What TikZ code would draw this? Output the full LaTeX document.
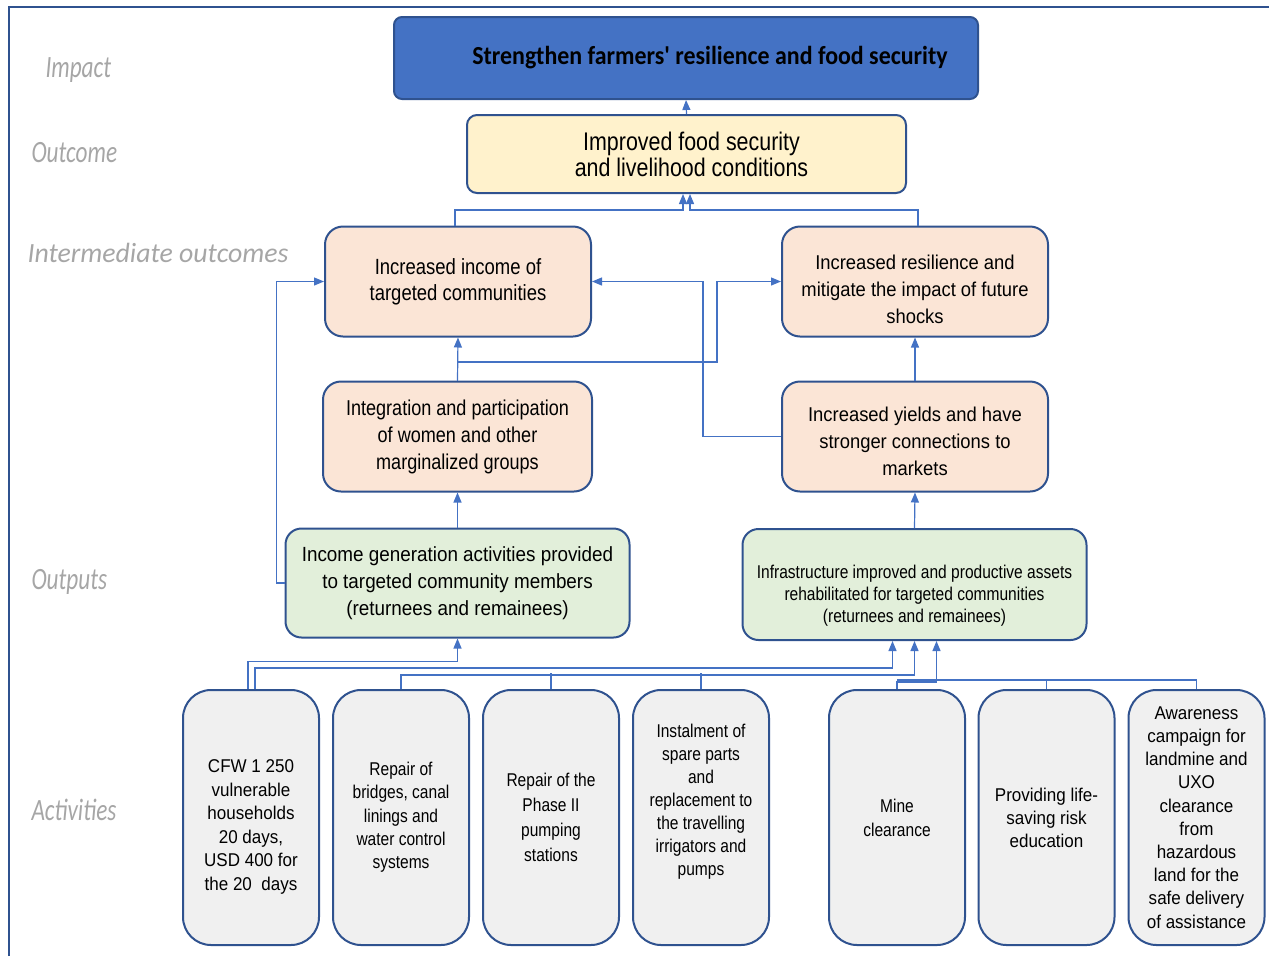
\documentclass[tikz,border=0pt]{standalone}
\usepackage{fontspec}
\setmainfont{Liberation Sans}
\newfontfamily\narrowsans{Liberation Sans}[FakeStretch=0.84]
\newfontfamily\midsans{Liberation Sans}[FakeStretch=0.92]
\newfontfamily\headfont{Carlito}[FakeStretch=0.92]
\newfontfamily\tierfont{Carlito}
\newfontfamily\tiernarrow{Carlito}[FakeStretch=0.75]
\usetikzlibrary{arrows.meta}
\definecolor{edgeblue}{HTML}{2F528F}
\definecolor{linkblue}{HTML}{4472C4}
\definecolor{impactfill}{HTML}{4472C4}
\definecolor{outcomefill}{HTML}{FFF2CC}
\definecolor{interfill}{HTML}{FBE5D6}
\definecolor{outputfill}{HTML}{E2EFDA}
\definecolor{activfill}{HTML}{F0F0F0}
\definecolor{tiergray}{HTML}{A6A6A6}

\begin{document}
\begin{tikzpicture}[x=1pt,y=1pt,
    cbox/.style={draw=edgeblue,line width=2pt,align=center,inner sep=0pt},
    impactbox/.style={cbox,fill=impactfill,rounded corners=8pt,minimum width=584pt,minimum height=82pt,font=\headfont\bfseries\fontsize{26}{30}\selectfont},
    outcomebox/.style={cbox,fill=outcomefill,rounded corners=10pt,minimum width=439pt,minimum height=78pt,font=\narrowsans\fontsize{25.5}{26}\selectfont},
    interbox/.style={cbox,fill=interfill,rounded corners=18pt,minimum width=266pt,minimum height=110pt},
    outputbox/.style={cbox,fill=outputfill,rounded corners=16pt,minimum width=344pt,minimum height=109pt},
    activbox/.style={cbox,fill=activfill,rounded corners=28pt,minimum width=136pt,minimum height=255pt},
    tier/.style={anchor=west,text=tiergray,font=\tiernarrow\itshape\fontsize{31}{31}\selectfont},
    wire/.style={draw=linkblue,line width=1.2pt},
    arr/.style={wire,-{Triangle[length=10pt,width=8pt]}}]
    \useasboundingbox (0,0) rectangle (1269,-956);
    \draw[edgeblue,line width=2pt] (9,-956) -- (9,-7) -- (1269,-7);

    % level names
    \node[tier] (t-impact) at (42,-70) {Impact};
    \node[tier] (t-outcome) at (28,-153) {Outcome};
    \node[tier,font=\tierfont\itshape\fontsize{27.8}{28}\selectfont] (t-inter) at (24,-253) {Intermediate outcomes};
    \node[tier] (t-output) at (28,-582) {Outputs};
    \node[tier] (t-activ) at (28,-810) {Activities};

    % impact and outcome
    \node[impactbox] (impact) at (686,-58) {\hspace*{48pt}Strengthen farmers' resilience and food security};
    \node[outcomebox] (outc) at (686.5,-154) {\hspace*{10pt}Improved food security\\\hspace*{10pt}and livelihood conditions};

    % intermediate outcomes
    \node[interbox,font=\narrowsans\fontsize{22}{26}\selectfont] (io1) at (458,-281.5) {Increased income of\\targeted communities};
    \node[interbox,font=\midsans\fontsize{20}{27}\selectfont] (io2) at (915,-281.5) {\mbox{}\\[3pt]Increased resilience and\\mitigate the impact of future\\shocks};
    \node[interbox,minimum width=269pt,font=\narrowsans\fontsize{21.5}{27}\selectfont] (io3) at (457.5,-436.5) {Integration and participation\\of women and other\\marginalized groups};
    \node[interbox,font=\midsans\fontsize{20}{27}\selectfont] (io4) at (915,-436.5) {\mbox{}\\[-3pt]Increased yields and have\\stronger connections to\\markets};

    % outputs
    \node[outputbox,font=\midsans\fontsize{20.5}{27}\selectfont] (out1) at (457.5,-583) {Income generation activities provided\\to targeted community members\\(returnees and remainees)};
    \node[outputbox,minimum height=111pt,font=\narrowsans\fontsize{18.5}{22}\selectfont] (out2) at (914.5,-584.5) {\mbox{}\\[14pt]Infrastructure improved and productive assets\\rehabilitated for targeted communities\\(returnees and remainees)};

    % activities
    \node[activbox,font=\midsans\fontsize{18.5}{23.5}\selectfont] (a1) at (251,-817.5) {\mbox{}\\[8.5pt]CFW 1 250\\vulnerable\\households\\20 days,\\USD 400 for\\the 20\ \ days};
    \node[activbox,font=\narrowsans\fontsize{18.5}{23.3}\selectfont] (a2) at (401,-817.5) {Repair of\\bridges, canal\\linings and\\water control\\systems};
    \node[activbox,font=\narrowsans\fontsize{18.5}{25}\selectfont] (a3) at (551,-817.5) {Repair of the\\Phase II\\pumping\\stations};
    \node[activbox,font=\narrowsans\fontsize{18.5}{23}\selectfont] (a4) at (701,-817.5) {Instalment of\\spare parts\\and\\replacement to\\the travelling\\irrigators and\\pumps\\[13pt]\mbox{}};
    \node[activbox,font=\narrowsans\fontsize{18.5}{24}\selectfont] (a5) at (897,-817.5) {Mine\\clearance};
    \node[activbox,font=\midsans\fontsize{18.5}{23}\selectfont] (a6) at (1046.5,-817.5) {Providing life-\\saving risk\\education};
    \node[activbox,font=\midsans\fontsize{18.5}{23.2}\selectfont] (a7) at (1196.5,-817.5) {Awareness\\campaign for\\landmine and\\UXO\\clearance\\from\\hazardous\\land for the\\safe delivery\\of assistance};

    % links between levels
    \draw[arr] (outc.north) -- (impact.south);
    \draw[arr] ([xshift=-3pt]io1.north) |- ([xshift=-3.5pt,yshift=-16pt]outc.south) -- ([xshift=-3.5pt]outc.south);
    \draw[arr] ([xshift=3pt]io2.north) |- ([xshift=3.5pt,yshift=-16pt]outc.south) -- ([xshift=3.5pt]outc.south);
    \draw[arr] (io3.north) -- (io1.south);
    \coordinate (bend1) at (717,-362);
    \draw[arr] (io3.north) |- (bend1) |- (io2.west);
    \coordinate (bend2) at (703,-436.5);
    \draw[arr] (io4.west) -- (bend2) |- (io1.east);
    \draw[arr] (io4.north) -- (io2.south);
    \draw[arr] (out1.north) -- (io3.south);
    \draw[arr] (out1.west) -- ++(-8,0) |- (io1.west);
    \draw[arr] (out2.north) -- (io4.south);
    \draw[arr] ([xshift=-3pt]a1.north) |- ([yshift=-23pt]out1.south) -- (out1.south);
    \draw[arr] ([xshift=4pt]a1.north) |- ([xshift=-22pt,yshift=-27pt]out2.south) -- ([xshift=-22pt]out2.south);
    \draw[arr] (a2.north) |- ([yshift=-34pt]out2.south) -- (out2.south);
    \draw[wire] (a3.north) -- ++(0,16);
    \draw[wire] (a4.north) -- ++(0,16);
    \draw[arr] (a5.north) |- ([xshift=22pt,yshift=-41pt]out2.south) -- ([xshift=22pt]out2.south);
    \draw[wire] (a7.north) |- ([yshift=9pt]a5.north);
    \draw[wire] (a6.north) -- ++(0,9);
\end{tikzpicture}
\end{document}
